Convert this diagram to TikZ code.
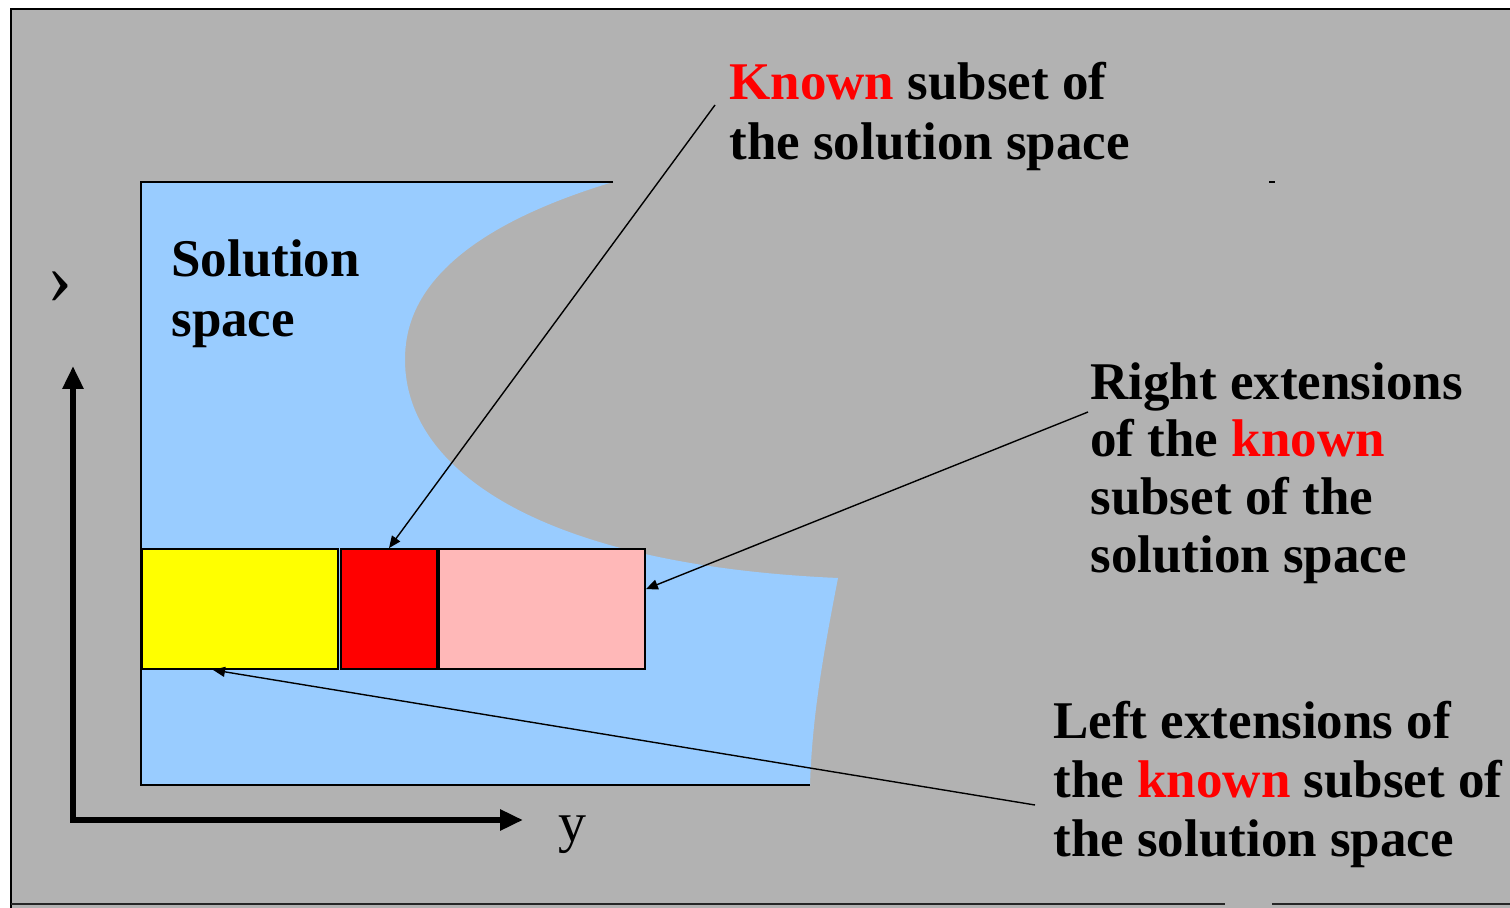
\documentclass[tikz,border=0pt]{standalone}
\usepackage{fontspec}
\setmainfont{Liberation Serif}
\usetikzlibrary{arrows.meta}
\definecolor{bg}{RGB}{178,178,178}
\definecolor{sky}{RGB}{153,204,255}
\definecolor{pinkish}{RGB}{255,184,184}
\definecolor{yel}{RGB}{255,255,0}
\definecolor{rd}{RGB}{255,0,0}
\begin{document}
\begin{tikzpicture}[x=0.5pt,y=-0.5pt,
  lbl/.style={font=\fontsize{26.5}{30}\selectfont\bfseries, anchor=base west, inner sep=0pt},
  box/.style={draw=black, line width=0.9pt, inner sep=0pt, minimum height=60pt, anchor=center},
  pointer/.style={draw=black, line width=0.7pt, -{Triangle[length=6pt,width=5pt]}},
  axis/.style={line width=3.4pt, line join=miter, {Triangle[length=11.5pt,width=10pt]}-{Triangle[length=11.5pt,width=10pt]}}]
\useasboundingbox (0,0) rectangle (1510,908);
\fill[white] (0,0) rectangle (1510,908);
\fill[bg] (11,9) rectangle (1510,908);
\draw[line width=1.2pt] (11,908) -- (11,9) -- (1510,9);
\draw[line width=1.4pt, black!85] (11,904) -- (1225,904);
\draw[line width=1.4pt, black!85] (1272,904) -- (1510,904);
% solution space
\fill[sky] (141,182) -- (613,182) .. controls (420,240) and (405,320) .. (405,360)
  .. controls (405,470) and (540,565) .. (838,578)
  .. controls (822,660) and (812,720) .. (810,785) -- (141,785) -- cycle;
\draw[line width=0.9pt] (613,182) -- (141,182) -- (141,785) -- (810,785);
% boxes
\node[box, fill=yel, minimum width=98pt] (yellow) at (240,609) {};
\node[box, fill=rd, minimum width=48pt] (red) at (389,609) {};
\node[box, fill=pinkish, minimum width=103pt] (pink) at (542,609) {};
% axes
\coordinate (ytip) at (73,366);
\coordinate (corner) at (73,820);
\coordinate (xtip) at (523,820);
\draw[axis] (ytip) -- (corner) -- (xtip);
\node[anchor=base west, font=\fontsize{28}{30}\selectfont, inner sep=0pt] (ylab) at (558,841) {y};
\node[font=\fontsize{38}{40}\selectfont, inner sep=0pt] (xlab) at (60,288) {›};
% stray mark
\fill (1269,181) rectangle (1275,183);
% labels
\node[lbl] (k1) at (729,100) {\textcolor{rd}{Known} subset of};
\node[lbl] (k2) at (729,160) {the solution space};
\node[lbl] (s1) at (171,277) {Solution};
\node[lbl] (s2) at (171,337) {space};
\node[lbl] (r1) at (1090,400) {Right extensions};
\node[lbl] (r2) at (1090,457) {of the \textcolor{rd}{known}};
\node[lbl] (r3) at (1090,515) {subset of the};
\node[lbl] (r4) at (1090,573) {solution space};
\node[lbl] (l1) at (1053,738) {Left extensions of};
\node[lbl] (l2) at (1053,797) {the \textcolor{rd}{known} subset of};
\node[lbl] (l3) at (1053,856) {the solution space};
% pointers
\coordinate (p1) at (715,105);
\coordinate (p2) at (1088,412);
\coordinate (p3) at (1035,805);
\draw[pointer] (p1) -- (red.north);
\draw[pointer] (p2) -- ([yshift=-20.5pt]pink.north east);
\draw[pointer] (p3) -- ([xshift=-13.5pt]yellow.south);
\end{tikzpicture}
\end{document}
